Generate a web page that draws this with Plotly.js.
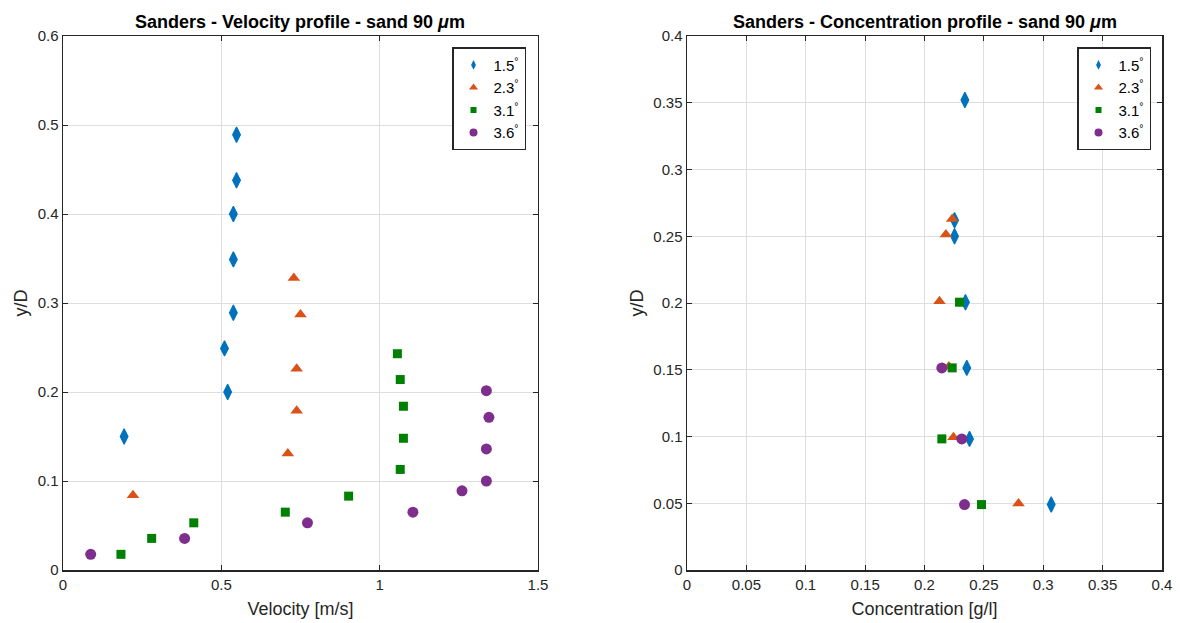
<!DOCTYPE html>
<html>
<head>
<meta charset="utf-8">
<script src="https://cdn.plot.ly/plotly-3.0.1.min.js"></script>
<style>html,body{margin:0;padding:0;background:#fff;}#chart{width:1180px;height:623px;}</style>
</head>
<body>
<div id="chart"></div>
<script>
// Legend labels (inclination angles)
const seriesNames = ['1.5<sup>°</sup>', '2.3<sup>°</sup>', '3.1<sup>°</sup>', '3.6<sup>°</sup>'];

// Velocity profile [m/s] vs y/D
const vel15_x = [0.548, 0.548, 0.538, 0.538, 0.538, 0.510, 0.520, 0.193];
const vel15_y = [0.489, 0.438, 0.400, 0.349, 0.289, 0.249, 0.200, 0.150];
const vel23_x = [0.729, 0.750, 0.738, 0.738, 0.710, 0.221];
const vel23_y = [0.328, 0.287, 0.226, 0.179, 0.131, 0.084];
const vel31_x = [1.056, 1.065, 1.075, 1.075, 1.065, 0.902, 0.702, 0.413, 0.280, 0.183];
const vel31_y = [0.243, 0.214, 0.184, 0.148, 0.113, 0.083, 0.065, 0.053, 0.0355, 0.0176];
const vel36_x = [1.337, 1.345, 1.337, 1.337, 1.260, 1.105, 0.772, 0.384, 0.0875];
const vel36_y = [0.2015, 0.1715, 0.136, 0.100, 0.089, 0.065, 0.053, 0.0355, 0.0176];

// Concentration profile [g/l] vs y/D
const con15_x = [0.234, 0.2253, 0.2253, 0.2345, 0.2356, 0.2379, 0.3067];
const con15_y = [0.352, 0.262, 0.250, 0.2006, 0.1514, 0.0982, 0.049];
const con23_x = [0.2233, 0.218, 0.2126, 0.2205, 0.2244, 0.2792];
const con23_y = [0.263, 0.2513, 0.2013, 0.1524, 0.0994, 0.0499];
const con31_x = [0.2295, 0.2233, 0.2146, 0.248];
const con31_y = [0.2006, 0.1514, 0.0982, 0.049];
const con36_x = [0.2146, 0.2314, 0.2337];
const con36_y = [0.1514, 0.0982, 0.049];

const colors = ['#0072BD', '#D95319', '#008000', '#7E2F8E'];
const symbols = ['diamond-tall', 'triangle-up', 'square', 'circle'];
const sizes = [11, 11, 9, 11];
const lineW = [1.2, 0, 0, 0];
const legendSizes = [7, 8, 6, 8];

const velX = [vel15_x, vel23_x, vel31_x, vel36_x];
const velY = [vel15_y, vel23_y, vel31_y, vel36_y];
const conX = [con15_x, con23_x, con31_x, con36_x];
const conY = [con15_y, con23_y, con31_y, con36_y];

const traces = [];
function addPanel(X, Y, xa, ya, lg) {
  for (let i = 0; i < 4; i++) {
    traces.push({
      type: 'scatter', mode: 'markers', x: X[i], y: Y[i], name: seriesNames[i],
      xaxis: xa, yaxis: ya, showlegend: false, hoverinfo: 'skip',
      marker: {symbol: symbols[i], size: sizes[i], color: colors[i], line: {width: lineW[i], color: colors[i]}}
    });
  }
  // legend-only entries with the small legend markers
  for (let i = 0; i < 4; i++) {
    traces.push({
      type: 'scatter', mode: 'markers', x: [null], y: [null], name: seriesNames[i],
      xaxis: xa, yaxis: ya, legend: lg, showlegend: true, hoverinfo: 'skip',
      marker: {symbol: symbols[i], size: legendSizes[i], color: colors[i], line: {width: 0}}
    });
  }
}
addPanel(velX, velY, 'x', 'y', 'legend');
addPanel(conX, conY, 'x2', 'y2', 'legend2');

const FONT = 'Liberation Sans, Arial, Helvetica, sans-serif';
const axisCommon = {
  showline: true, mirror: 'ticks', linecolor: '#262626', linewidth: 1.5,
  ticks: 'inside', ticklen: 5, tickcolor: '#262626', tickwidth: 1,
  showgrid: true, gridcolor: '#dedede', gridwidth: 1, zeroline: false,
  tickfont: {family: FONT, size: 15, color: '#262626'},
  fixedrange: true
};
const titleFont = {family: FONT, size: 18, color: '#262626'};
const legendCommon = {
  bgcolor: '#ffffff', bordercolor: '#262626', borderwidth: 1.5,
  font: {family: FONT, size: 15, color: '#000000'},
  xanchor: 'right', yanchor: 'top', tracegroupgap: 0, itemsizing: 'trace'
};

const layout = {
  width: 1180, height: 623,
  margin: {l: 63, r: 18, t: 36, b: 53},
  paper_bgcolor: '#ffffff', plot_bgcolor: '#ffffff',
  font: {family: FONT, color: '#262626'},
  showlegend: true,
  xaxis: Object.assign({}, axisCommon, {
    domain: [0, 0.4322], range: [0, 1.5], dtick: 0.5, anchor: 'y',
    title: {text: 'Velocity [m/s]', font: titleFont, standoff: 11}
  }),
  yaxis: Object.assign({}, axisCommon, {
    domain: [0, 1], range: [0, 0.6], dtick: 0.1, anchor: 'x',
    title: {text: 'y/D', font: titleFont, standoff: 5}
  }),
  xaxis2: Object.assign({}, axisCommon, {
    domain: [0.5678, 1], range: [0, 0.4], dtick: 0.05, anchor: 'y2',
    title: {text: 'Concentration [g/l]', font: titleFont, standoff: 11}
  }),
  yaxis2: Object.assign({}, axisCommon, {
    domain: [0, 1], range: [0, 0.4], dtick: 0.05, anchor: 'x2',
    title: {text: 'y/D', font: titleFont, standoff: 5}
  }),
  legend: Object.assign({}, legendCommon, {x: 0.4213, y: 0.979}),
  legend2: Object.assign({}, legendCommon, {x: 0.99, y: 0.979}),
  annotations: [
    {text: '<b>Sanders - Velocity profile - sand 90 <i>μ</i>m</b>', xref: 'x domain', yref: 'paper',
     x: 0.5, y: 1.026, xanchor: 'center', yanchor: 'middle', showarrow: false,
     font: {family: FONT, size: 18, color: '#000000'}},
    {text: '<b>Sanders - Concentration profile - sand 90 <i>μ</i>m</b>', xref: 'x2 domain', yref: 'paper',
     x: 0.5, y: 1.026, xanchor: 'center', yanchor: 'middle', showarrow: false,
     font: {family: FONT, size: 18, color: '#000000'}}
  ]
};

Plotly.newPlot('chart', traces, layout, {displayModeBar: false, staticPlot: true});
</script>
</body>
</html>
